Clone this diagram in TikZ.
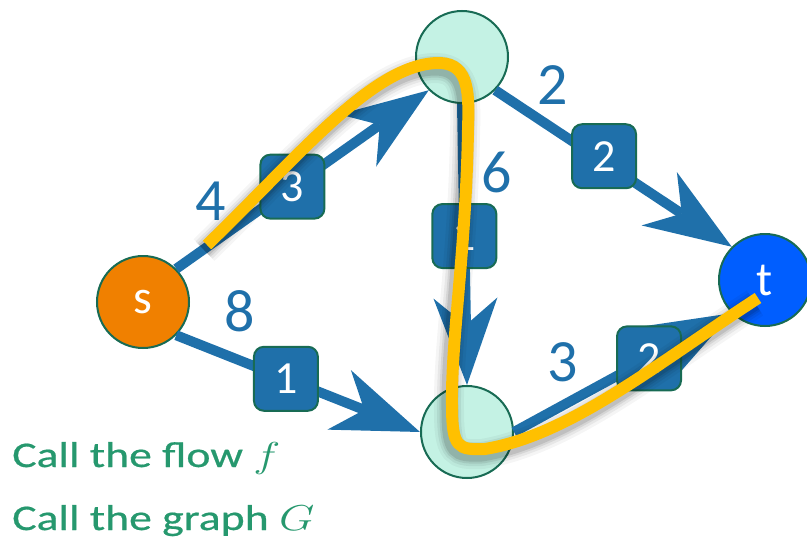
\documentclass[tikz,border=0pt]{standalone}
\usepackage{fix-cm}
\usepackage{fontspec}
\setmainfont{Carlito}
\newfontfamily\notefont[FakeBold=0.5]{Carlito}
\usepackage{xcolor}
\usepackage{tikz}
\usetikzlibrary{arrows.meta}

\definecolor{edgeblue}{RGB}{31,112,170}
\definecolor{rimgreen}{RGB}{24,107,84}
\definecolor{srcorange}{RGB}{240,128,0}
\definecolor{mint}{RGB}{196,242,228}
\definecolor{sinkblue}{RGB}{0,94,255}
\definecolor{pathyellow}{RGB}{255,192,0}
\definecolor{notegreen}{RGB}{38,152,110}

% the augmenting route s -> top -> bottom -> t
\newcommand{\augroute}{(207,245) .. controls (300,155) and (375,62) .. (440,63)
        .. controls (470,64) and (469,95) .. (468,130)
        .. controls (466,250) and (451,340) .. (452,405)
        .. controls (452,448) and (458,450) .. (485,449)
        .. controls (570,435) and (655,365) .. (758,298)}

\begin{document}
\begin{tikzpicture}
        [x=1pt,y=-1pt,
         vertex/.style={circle,draw=rimgreen,line width=2pt,minimum size=92pt,inner sep=0pt,font=\fontsize{48}{56}\selectfont},
         flowbox/.style={rectangle,rounded corners=10pt,fill=edgeblue,draw=rimgreen,line width=2pt,minimum size=64pt,inner sep=0pt,text=white,font=\fontsize{46}{54}\selectfont},
         capnum/.style={text=edgeblue,inner sep=0pt,font=\fontsize{60}{70}\selectfont},
         flowedge/.style={color=edgeblue,line width=10pt,-{Stealth[length=87pt,width=64pt,inset=27pt,line width=0pt]}},
         note/.style={text=notegreen,anchor=base west,inner sep=0pt,xscale=1.27,font=\notefont\fontsize{36}{44}\selectfont}]
        \useasboundingbox (0,0) rectangle (807,538);

        \node [vertex,fill=srcorange,text=white,name=s] at (143,302) {s};
        \node [vertex,fill=mint,name=u] at (462,57) {};
        \node [vertex,fill=mint,name=v] at (467,432) {};
        \node [vertex,fill=sinkblue,text=white,name=t] at (765,280) {t};

        \path (s.north east) edge[flowedge] node[flowbox,pos=0.46,name=fsu] {3} (u.south west)
              (s.south east) edge[flowedge] node[flowbox,pos=0.45,name=fsv] {1} (v.west)
              (u.south east) edge[flowedge] node[flowbox,pos=0.46,yshift=6pt,name=fut] {2} (t.north west)
              (u.south) edge[flowedge] node[flowbox,pos=0.47,name=fuv] {1} (v.north)
              (v.east) edge[flowedge] node[flowbox,pos=0.62,name=fvt] {2} (t.south west);

        % capacities
        \node [capnum,name=csu] at (211,201) {4};
        \node [capnum,name=csv] at (240,311) {8};
        \node [capnum,name=cut] at (553,85) {2};
        \node [capnum,name=cuv] at (497,172) {6};
        \node [capnum,name=cvt] at (563,362) {3};

        % soft shadow, then the route itself
        \foreach \w/\o in {30/0.04,24/0.06,19/0.08,15/0.1}
            \draw[black,line width=\w pt,opacity=\o,shift={(-3,5)}] \augroute;
        \draw[pathyellow,line width=12pt] \augroute;

        \node [note,name=n1] at (12,467) {Call the flow $f$};
        \node [note,name=n2] at (12,530) {Call the graph $G$};
    \end{tikzpicture}
\end{document}
